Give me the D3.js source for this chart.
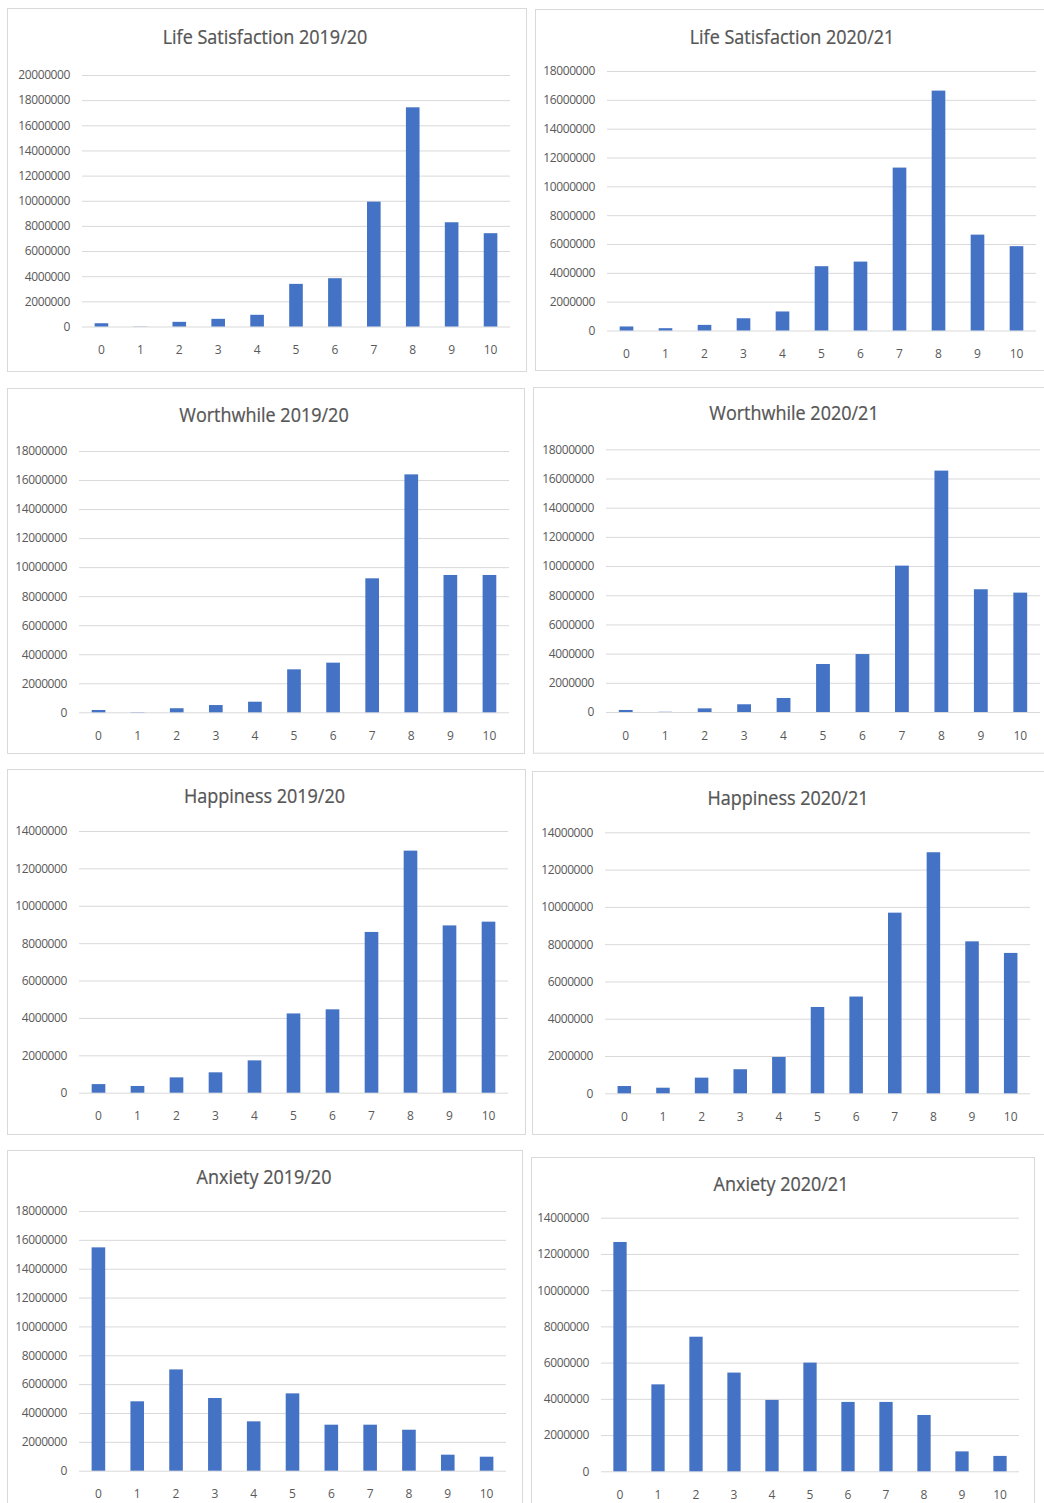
<!DOCTYPE html>
<html>
<head>
<meta charset="utf-8">
<script src="https://cdn.jsdelivr.net/npm/d3@7"></script>
<style>
  html, body { margin: 0; padding: 0; background: #ffffff; }
  svg { display: block; }
  .tick text { font-family: "Open Sans", sans-serif; fill: #595959; }
</style>
</head>
<body>
<svg id="chart" width="1044" height="1503"></svg>
<script>
// Response scores 0-10
const categories = ["0", "1", "2", "3", "4", "5", "6", "7", "8", "9", "10"];

// Number of people giving each score
const lifeSatisfaction2019 = [260000, 15000, 370000, 610000, 930000, 3390000, 3840000, 9930000, 17430000, 8290000, 7420000];
const lifeSatisfaction2020 = [280000, 160000, 390000, 850000, 1320000, 4460000, 4780000, 11300000, 16640000, 6650000, 5850000];
const worthwhile2019 = [160000, 15000, 280000, 500000, 730000, 2960000, 3420000, 9230000, 16390000, 9460000, 9460000];
const worthwhile2020 = [140000, 15000, 250000, 530000, 960000, 3290000, 3970000, 10030000, 16540000, 8410000, 8180000];
const happiness2019 = [460000, 360000, 820000, 1090000, 1730000, 4240000, 4460000, 8600000, 12950000, 8950000, 9150000];
const happiness2020 = [390000, 300000, 840000, 1290000, 1950000, 4630000, 5190000, 9690000, 12930000, 8150000, 7530000];
const anxiety2019 = [15480000, 4810000, 7020000, 5040000, 3420000, 5360000, 3190000, 3190000, 2840000, 1110000, 970000];
const anxiety2020 = [12660000, 4800000, 7430000, 5450000, 3940000, 6000000, 3830000, 3830000, 3110000, 1100000, 850000];

// Chart titles and y-axis maxima
const titles = [
  "Life Satisfaction 2019/20", "Life Satisfaction 2020/21",
  "Worthwhile 2019/20", "Worthwhile 2020/21",
  "Happiness 2019/20", "Happiness 2020/21",
  "Anxiety 2019/20", "Anxiety 2020/21"
];
const yMax = [20000000, 18000000, 18000000, 18000000, 14000000, 14000000, 18000000, 14000000];
const yStep = 2000000;

const seriesList = [
  lifeSatisfaction2019, lifeSatisfaction2020,
  worthwhile2019, worthwhile2020,
  happiness2019, happiness2020,
  anxiety2019, anxiety2020
];

// Placement of each chart card on the page
const layout = [
  { box: [7, 8, 526, 371],     title: [265, 37],   plot: [82, 510, 75, 326.5] },
  { box: [535, 9, 1050, 370],  title: [792, 37],   plot: [607, 1036, 71, 330.5] },
  { box: [7, 388, 524, 753],   title: [264, 415],  plot: [79, 509, 451, 712.3] },
  { box: [533, 387, 1050, 752.7], title: [794, 413], plot: [606, 1040, 449.3, 712] },
  { box: [7, 769, 525, 1134],  title: [264.5, 796], plot: [79, 508, 831, 1092.7] },
  { box: [532, 771, 1050, 1134], title: [788, 798], plot: [605, 1030, 832.3, 1093.3] },
  { box: [7, 1150, 522, 1515], title: [264, 1177], plot: [79, 506, 1211, 1470.7] },
  { box: [531, 1157, 1034, 1515], title: [781, 1184], plot: [601, 1019, 1217.7, 1471.3] }
];

const svg = d3.select("#chart");
const barColor = "#4472C4";
const gridColor = "#d9d9d9";
const textColor = "#595959";

seriesList.forEach((values, i) => {
  const L = layout[i];
  const [bx0, by0, bx1, by1] = L.box;
  const [left, right, top, bottom] = L.plot;

  // card frame
  svg.append("rect")
    .attr("x", bx0 + 0.5).attr("y", by0 + 0.5)
    .attr("width", bx1 - bx0).attr("height", by1 - by0)
    .attr("fill", "#ffffff")
    .attr("stroke", gridColor).attr("stroke-width", 1);

  // title
  svg.append("text")
    .attr("transform", `translate(${L.title[0]},${L.title[1]}) scale(0.9,1)`)
    .attr("text-anchor", "middle")
    .attr("dy", "0.36em")
    .attr("font-family", "'Open Sans', sans-serif")
    .attr("font-size", 20)
    .attr("fill", "#555555")
    .attr("stroke", "#555555")
    .attr("stroke-width", 0.25)
    .text(titles[i]);

  const x = d3.scaleBand()
    .domain(categories)
    .range([left, right])
    .paddingInner(0.65)
    .paddingOuter(0.325);

  const y = d3.scaleLinear()
    .domain([0, yMax[i]])
    .range([bottom, top]);

  const ticks = d3.range(0, yMax[i] + 1, yStep);

  // gridlines and value labels
  const yAxis = svg.append("g")
    .attr("transform", `translate(${left},0)`)
    .call(d3.axisLeft(y)
      .tickValues(ticks)
      .tickFormat(d3.format("d"))
      .tickSizeInner(-(right - left))
      .tickSizeOuter(0)
      .tickPadding(12));
  yAxis.select(".domain").remove();
  yAxis.selectAll(".tick line").attr("stroke", gridColor).attr("stroke-width", 1);
  yAxis.selectAll(".tick text")
    .attr("font-size", 12)
    .attr("letter-spacing", "-0.4px")
    .attr("fill", textColor);

  // bars
  svg.append("g")
    .selectAll("rect")
    .data(values)
    .join("rect")
    .attr("x", (d, j) => x(categories[j]))
    .attr("y", d => y(d))
    .attr("width", x.bandwidth())
    .attr("height", d => y(0) - y(d))
    .attr("fill", barColor);

  // score labels
  const xAxis = svg.append("g")
    .attr("transform", `translate(0,${bottom})`)
    .call(d3.axisBottom(x).tickSize(0).tickPadding(19));
  xAxis.select(".domain").remove();
  xAxis.selectAll(".tick text").attr("font-size", 12).attr("fill", textColor);
});
</script>
</body>
</html>
